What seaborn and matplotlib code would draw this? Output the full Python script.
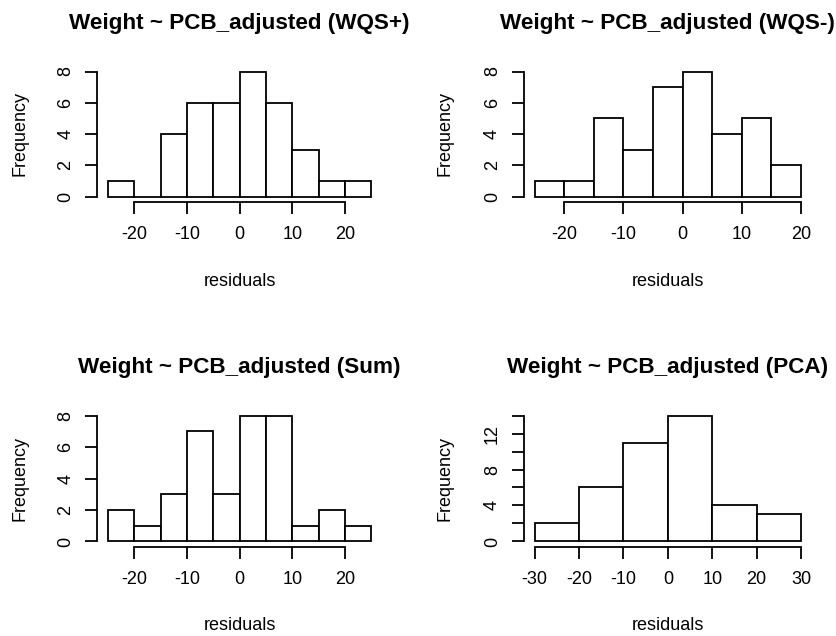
import matplotlib
matplotlib.use("Agg")
import matplotlib.pyplot as plt
import numpy as np
import pandas as pd
import seaborn as sns

# ---------------- data ----------------
titles = [
    "Weight ~ PCB_adjusted (WQS+)",
    "Weight ~ PCB_adjusted (WQS-)",
    "Weight ~ PCB_adjusted (Sum)",
    "Weight ~ PCB_adjusted (PCA)",
]

edges_wqs_pos = [-25, -20, -15, -10, -5, 0, 5, 10, 15, 20, 25]
counts_wqs_pos = [1, 0, 4, 6, 6, 8, 6, 3, 1, 1]

edges_wqs_neg = [-25, -20, -15, -10, -5, 0, 5, 10, 15, 20]
counts_wqs_neg = [1, 1, 5, 3, 7, 8, 4, 5, 2]

edges_sum = [-25, -20, -15, -10, -5, 0, 5, 10, 15, 20, 25]
counts_sum = [2, 1, 3, 7, 3, 8, 8, 1, 2, 1]

edges_pca = [-30, -20, -10, 0, 10, 20, 30]
counts_pca = [2, 6, 11, 14, 4, 3]

xticks_wqs_pos = [-20, -10, 0, 10, 20]
xticks_wqs_neg = [-20, -10, 0, 10, 20]
xticks_sum = [-20, -10, 0, 10, 20]
xticks_pca = [-30, -20, -10, 0, 10, 20, 30]

yticks_small = [0, 2, 4, 6, 8]
ylabels_small = ["0", "2", "4", "6", "8"]
yticks_pca = [0, 2, 4, 6, 8, 10, 12, 14]
ylabels_pca = ["0", "", "4", "", "8", "", "12", ""]

x_label = "residuals"
y_label = "Frequency"

# ---------------- styling ----------------
sns.set_style("ticks")
plt.rcParams["font.family"] = ["Liberation Sans", "DejaVu Sans"]
plt.rcParams["text.color"] = "black"
plt.rcParams["axes.labelcolor"] = "black"
plt.rcParams["xtick.color"] = "black"
plt.rcParams["ytick.color"] = "black"

W, H = 837, 636
fig = plt.figure(figsize=(W / 100, H / 100), dpi=100)

# panel boxes in pixels: (left, top, right, bottom)
boxes = [
    (97.5, 66.5, 382.0, 201.5),
    (524.0, 66.5, 811.7, 201.5),
    (97.5, 410.5, 382.0, 546.5),
    (524.0, 410.5, 811.7, 546.5),
]
# pixel positions of axis labels
xlabel_top_px = [273.0, 273.0, 617.0, 617.0]
ylabel_right_px = [28.5, 453.5, 28.5, 453.5]

panels = [
    (edges_wqs_pos, counts_wqs_pos, xticks_wqs_pos, yticks_small, ylabels_small),
    (edges_wqs_neg, counts_wqs_neg, xticks_wqs_neg, yticks_small, ylabels_small),
    (edges_sum, counts_sum, xticks_sum, yticks_small, ylabels_small),
    (edges_pca, counts_pca, xticks_pca, yticks_pca, ylabels_pca),
]

for i, ((edges, counts, xt, yt, yl), box) in enumerate(zip(panels, boxes)):
    l, t, r, b = box
    ax = fig.add_axes([l / W, 1 - b / H, (r - l) / W, (b - t) / H])
    centers = [(edges[k] + edges[k + 1]) / 2 for k in range(len(edges) - 1)]
    df = pd.DataFrame({"residuals": centers, "count": counts})
    sns.histplot(data=df, x="residuals", weights="count", bins=list(edges), ax=ax,
                 stat="count", color="white", edgecolor="black",
                 linewidth=1.3, alpha=1.0)
    # R-style 4% axis extension
    span = edges[-1] - edges[0]
    ax.set_xlim(edges[0] - 0.04 * span, edges[-1] + 0.04 * span)
    ymax = max(counts)
    ax.set_ylim(-0.04 * ymax, 1.04 * ymax)

    ax.set_xticks(xt)
    ax.set_xticklabels([str(v) for v in xt])
    ax.set_yticks(yt)
    ax.set_yticklabels(yl, rotation=90, va="center")

    for side in ("top", "right"):
        ax.spines[side].set_visible(False)
    ax.spines["bottom"].set_bounds(xt[0], xt[-1])
    ax.spines["left"].set_bounds(yt[0], yt[-1])
    for side in ("bottom", "left"):
        ax.spines[side].set_linewidth(1.3)
        ax.spines[side].set_color("black")

    ax.tick_params(axis="both", direction="out", length=8.5, width=1.3,
                   colors="black", labelsize=13)
    ax.tick_params(axis="x", pad=9)
    ax.tick_params(axis="y", pad=8)

    ax.set_title(titles[i], fontsize=16.2, fontweight="bold", pad=27.0,
                 color="black")
    ax.set_xlabel(x_label, fontsize=13)
    ax.set_ylabel(y_label, fontsize=13)
    hpx = b - t
    wpx = r - l
    ax.xaxis.set_label_coords(0.5, -(xlabel_top_px[i] - b) / hpx)
    ax.yaxis.set_label_coords(-(l - ylabel_right_px[i]) / wpx, 0.5)
    ax.grid(False)

fig.savefig("out.png", dpi=100, facecolor="white")
